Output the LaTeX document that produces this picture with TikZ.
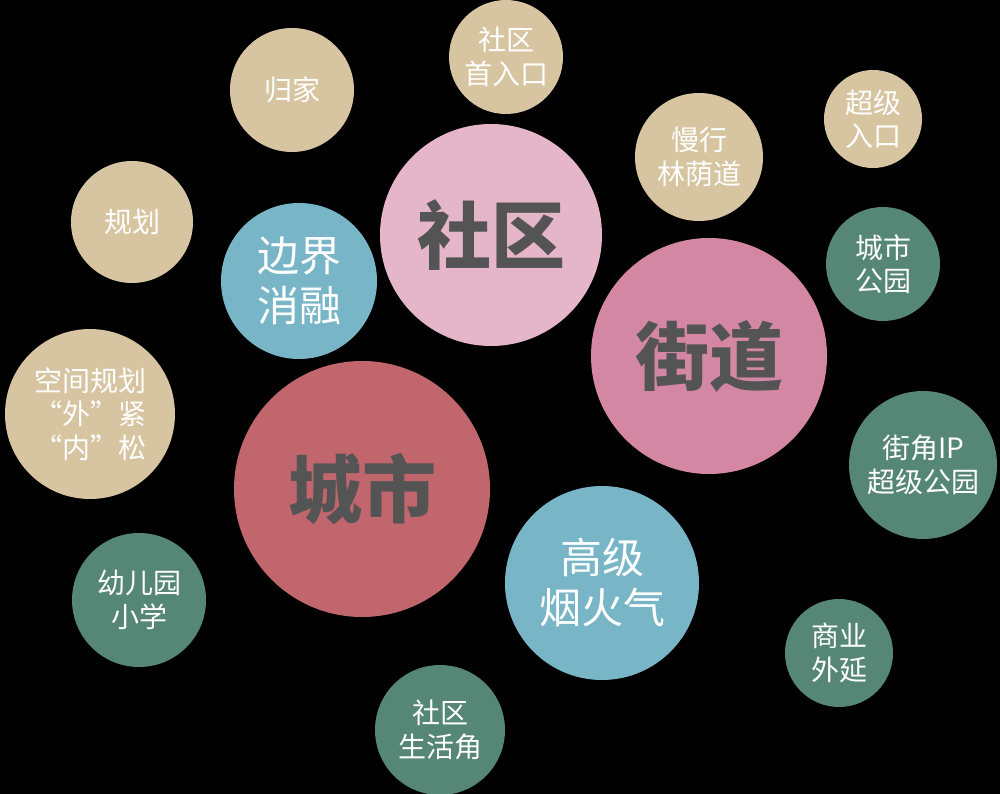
\documentclass[tikz,border=0pt]{standalone}
\usepackage{fontspec}
\setmainfont{Noto Sans CJK SC}
\newfontfamily\cjk{Noto Sans CJK SC}
\usepackage{tikz}
\definecolor{tan}{HTML}{D7C4A0}
\definecolor{pinka}{HTML}{E5B5C9}
\definecolor{pinkb}{HTML}{D487A3}
\definecolor{rose}{HTML}{C1666D}
\definecolor{sky}{HTML}{78B5C7}
\definecolor{teal}{HTML}{568676}
\definecolor{txtgray}{HTML}{545454}

\begin{document}
\begin{tikzpicture}[x=1pt,y=-1pt,
    bub/.style={circle,inner sep=0pt,align=center},
    sm/.style={bub,text=white,font=\cjk\fontsize{28}{33.5}\selectfont},
    md/.style={bub,text=white,font=\cjk\fontsize{42}{50}\selectfont},
    bg/.style={bub,text=txtgray,font=\cjk\bfseries\fontsize{74}{80}\selectfont}]
    \useasboundingbox (0,0) rectangle (1000,794);
    \fill[black] (0,0) rectangle (1000,794);
    % tan bubbles
    \node[sm,fill=tan,minimum size=114pt] (rukou) at (506,57) {社区\\首入口};
    \node[sm,fill=tan,minimum size=124pt] (guijia) at (292,90) {归家};
    \node[sm,fill=tan,minimum size=98pt] (chaoji) at (873,119) {超级\\入口};
    \node[sm,fill=tan,minimum size=128pt] (manxing) at (699,157) {慢行\\林荫道};
    \node[sm,fill=tan,minimum size=122pt] (guihua) at (132,222) {规划};
    \node[sm,fill=tan,minimum size=170pt] (kongjian) at (90,414) {空间规划\\“外”紧\\“内”松};
    % big ones
    \node[bg,fill=pinka,minimum size=222pt] (shequ) at (491,235) {社区};
    \node[bg,fill=pinkb,minimum size=236pt] (jiedao) at (709,356) {街道};
    \node[bg,fill=rose,minimum size=256pt] (chengshi) at (362,489) {城市};
    % blue
    \node[md,fill=sky,minimum size=156pt] (bianjie) at (299,281) {边界\\消融};
    \node[md,fill=sky,minimum size=194pt] (gaoji) at (602,583) {高级\\烟火气};
    % green
    \node[sm,fill=teal,minimum size=114pt] (gongyuan) at (883,264) {城市\\公园};
    \node[sm,fill=teal,minimum size=148pt] (jiejiao) at (923,465) {街角IP\\超级公园};
    \node[sm,fill=teal,minimum size=108pt] (shangye) at (839,653) {商业\\外延};
    \node[sm,fill=teal,minimum size=134pt] (youer) at (139,600) {幼儿园\\小学};
    \node[sm,fill=teal,minimum size=130pt] (shenghuo) at (440,730) {社区\\生活角};
\end{tikzpicture}
\end{document}
